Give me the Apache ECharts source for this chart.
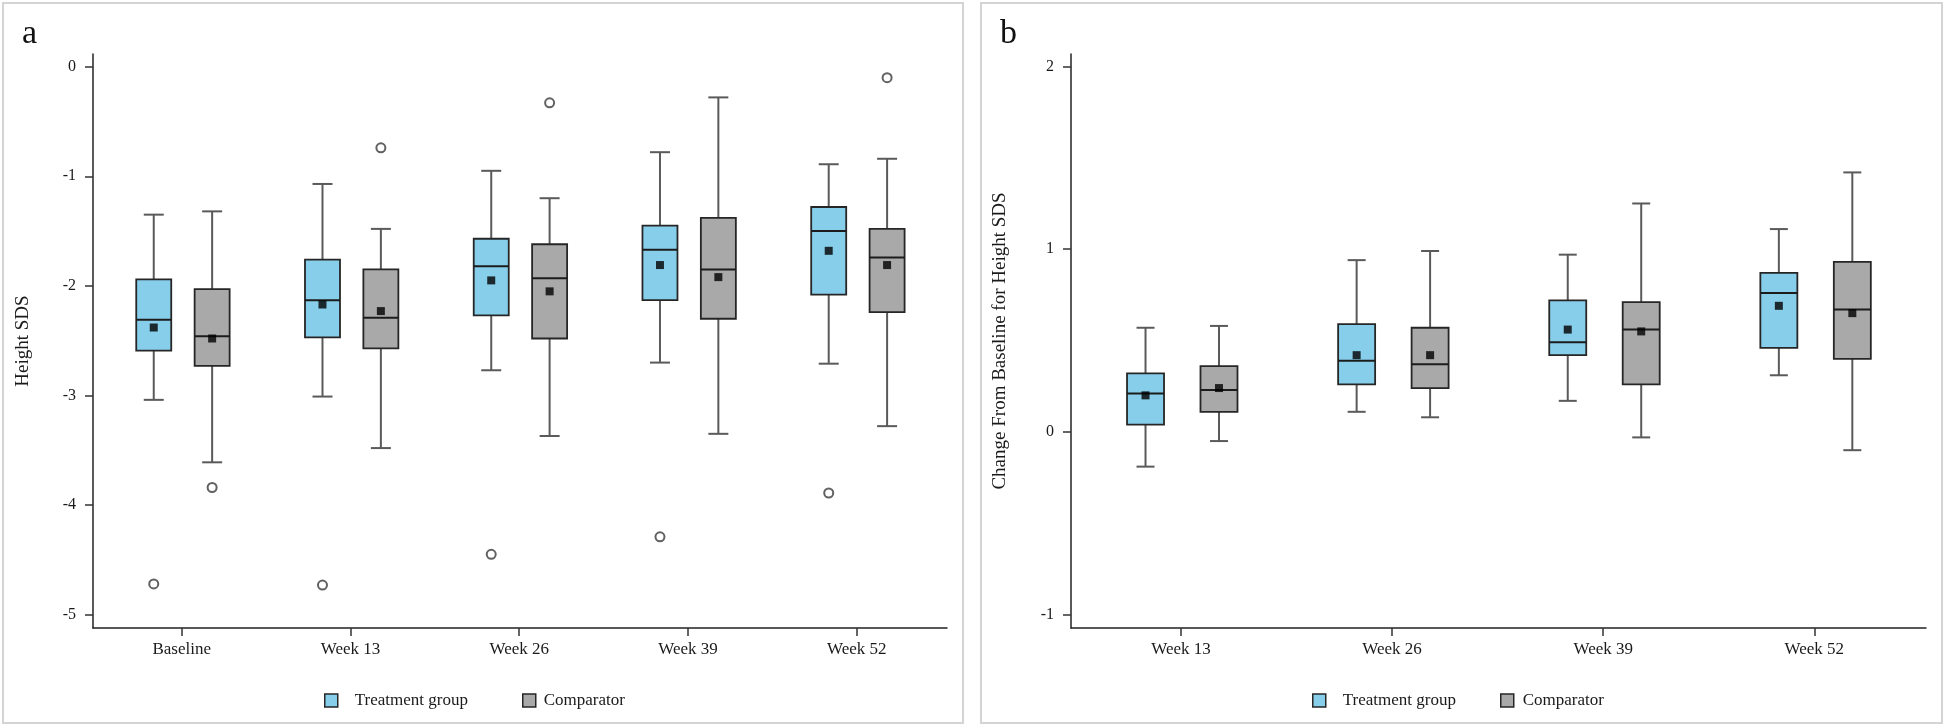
<!DOCTYPE html>
<html>
<head>
<meta charset="utf-8">
<script src="https://cdn.jsdelivr.net/npm/echarts@6/dist/echarts.min.js"></script>
<style>html,body{margin:0;padding:0;background:#fff;}#c{width:1946px;height:727px;}</style>
</head>
<body>
<div id="c"></div>
<script>
// ---------- DATA ----------
const catsA = ['Baseline', 'Week 13', 'Week 26', 'Week 39', 'Week 52'];
const catsB = ['Week 13', 'Week 26', 'Week 39', 'Week 52'];
const yTicksA = [-5, -4, -3, -2, -1, 0];
const yTicksB = [-1, 0, 1, 2];
const seriesNames = ['Treatment group', 'Comparator'];

// box rows: [lower whisker, Q1, median, Q3, upper whisker]
const aTreatBox = [
  [-3.04, -2.59, -2.31, -1.94, -1.35],
  [-3.01, -2.47, -2.13, -1.76, -1.07],
  [-2.77, -2.27, -1.82, -1.57, -0.95],
  [-2.70, -2.13, -1.67, -1.45, -0.78],
  [-2.71, -2.08, -1.50, -1.28, -0.89]
];
const aCompBox = [
  [-3.61, -2.73, -2.46, -2.03, -1.32],
  [-3.48, -2.57, -2.29, -1.85, -1.48],
  [-3.37, -2.48, -1.93, -1.62, -1.20],
  [-3.35, -2.30, -1.85, -1.38, -0.28],
  [-3.28, -2.24, -1.74, -1.48, -0.84]
];
const aTreatMean = [-2.38, -2.17, -1.95, -1.81, -1.68];
const aCompMean = [-2.48, -2.23, -2.05, -1.92, -1.81];
// outliers: [category index, value]
const aTreatOutliers = [[0, -4.72], [1, -4.73], [2, -4.45], [3, -4.29], [4, -3.89]];
const aCompOutliers = [[0, -3.84], [1, -0.74], [2, -0.33], [4, -0.10]];

const bTreatBox = [
  [-0.19, 0.04, 0.21, 0.32, 0.57],
  [0.11, 0.26, 0.39, 0.59, 0.94],
  [0.17, 0.42, 0.49, 0.72, 0.97],
  [0.31, 0.46, 0.76, 0.87, 1.11]
];
const bCompBox = [
  [-0.05, 0.11, 0.23, 0.36, 0.58],
  [0.08, 0.24, 0.37, 0.57, 0.99],
  [-0.03, 0.26, 0.56, 0.71, 1.25],
  [-0.10, 0.40, 0.67, 0.93, 1.42]
];
const bTreatMean = [0.20, 0.42, 0.56, 0.69];
const bCompMean = [0.24, 0.42, 0.55, 0.65];

// ---------- STYLE ----------
const FONT = "'Liberation Serif', 'Times New Roman', serif";
const BLUE = '#87CEEB';
const GREY = '#A9A9A9';
const SHIFT = [-0.167, 0.181]; // group offsets within a category
const OFF_A = [-0.166, 0.18];
const OFF_B = [-0.168, 0.18];

function makeRender(boxW, capW) {
  return function (params, api) {
    const x = api.value(0);
    const lo = api.coord([x, api.value(1)]);
    const q1 = api.coord([x, api.value(2)]);
    const md = api.coord([x, api.value(3)]);
    const q3 = api.coord([x, api.value(4)]);
    const hi = api.coord([x, api.value(5)]);
    const cx = lo[0];
    const h = boxW / 2, c = capW / 2;
    const wStyle = { stroke: '#5a5a5a', lineWidth: 2 };
    const fill = api.visual('color');
    return {
      type: 'group',
      children: [
        { type: 'line', shape: { x1: cx, y1: hi[1], x2: cx, y2: q3[1] }, style: wStyle },
        { type: 'line', shape: { x1: cx, y1: q1[1], x2: cx, y2: lo[1] }, style: wStyle },
        { type: 'line', shape: { x1: cx - c, y1: hi[1], x2: cx + c, y2: hi[1] }, style: wStyle },
        { type: 'line', shape: { x1: cx - c, y1: lo[1], x2: cx + c, y2: lo[1] }, style: wStyle },
        { type: 'rect', shape: { x: cx - h, y: q3[1], width: boxW, height: q1[1] - q3[1] },
          style: { fill: fill, stroke: '#262626', lineWidth: 1.8 } },
        { type: 'line', shape: { x1: cx - h, y1: md[1], x2: cx + h, y2: md[1] },
          style: { stroke: '#1c1c1c', lineWidth: 2 } }
      ]
    };
  };
}

function boxData(rows, off) {
  return rows.map((r, i) => [i + off].concat(r));
}
function meanData(vals, off) {
  return vals.map((v, i) => [i + off, v]);
}
function outData(pairs, off) {
  return pairs.map(p => [p[0] + off, p[1]]);
}

function boxSeries(name, color, xi, rows, off, boxW, capW) {
  return {
    type: 'custom', name: name, xAxisIndex: xi, yAxisIndex: xi,
    itemStyle: { color: color, borderColor: '#262626', borderWidth: 1.5 },
    renderItem: makeRender(boxW, capW),
    encode: { x: 0, y: [1, 2, 3, 4, 5] },
    data: boxData(rows, off),
    z: 2
  };
}
function meanSeries(xi, vals, off) {
  return {
    type: 'scatter', name: 'mean', xAxisIndex: xi, yAxisIndex: xi,
    symbol: 'rect', symbolSize: 8, itemStyle: { color: '#000' },
    data: meanData(vals, off), z: 5, silent: true
  };
}
function outSeries(xi, pairs, off) {
  return {
    type: 'scatter', name: 'outlier', xAxisIndex: xi, yAxisIndex: xi,
    symbol: 'circle', symbolSize: 9,
    itemStyle: { color: '#fff', borderColor: '#3a3a3a', borderWidth: 2 },
    data: outData(pairs, off), z: 5, silent: true
  };
}

function xAxisCfg(gi, cats, min, max) {
  const idx = cats.map((_, i) => i);
  return {
    gridIndex: gi, type: 'value', min: min, max: max,
    splitLine: { show: false },
    axisLine: { show: true, onZero: false, lineStyle: { color: '#222', width: 1.5 } },
    axisTick: { show: true, customValues: idx, length: 8, lineStyle: { color: '#333', width: 1.5 } },
    axisLabel: { customValues: idx, formatter: v => cats[Math.round(v)], margin: 13,
      fontFamily: FONT, fontSize: 17, color: '#1a1a1a' }
  };
}
function yAxisCfg(gi, ticks, min, max, name, gap) {
  return {
    gridIndex: gi, type: 'value', min: min, max: max,
    name: name, nameLocation: 'middle', nameGap: gap, nameRotate: 90,
    nameTextStyle: { fontFamily: FONT, fontSize: 19, color: '#1a1a1a' },
    splitLine: { show: false },
    axisLine: { show: true, onZero: false, lineStyle: { color: '#222', width: 1.5 } },
    axisTick: { show: true, customValues: ticks, length: 8, lineStyle: { color: '#333', width: 1.5 } },
    axisLabel: { customValues: ticks, margin: 17, fontFamily: FONT, fontSize: 16, color: '#1a1a1a' }
  };
}

function legendCfg(name, color, left, padLeft) {
  return {
    left: left, top: 687, itemWidth: 13, itemHeight: 13, icon: 'rect',
    selectedMode: false,
    data: [{ name: name, itemStyle: { color: color, borderColor: '#262626', borderWidth: 1.5 } }],
    textStyle: { fontFamily: FONT, fontSize: 17, color: '#1a1a1a', padding: [0, 0, 0, padLeft] }
  };
}

const chart = echarts.init(document.getElementById('c'), null, { renderer: 'canvas' });
chart.setOption({
  backgroundColor: '#fff',
  animation: false,
  title: [
    { text: 'a', left: 17, top: 12, textStyle: { fontFamily: FONT, fontSize: 34, fontWeight: 'normal', color: '#111' } },
    { text: 'b', left: 995, top: 12, textStyle: { fontFamily: FONT, fontSize: 34, fontWeight: 'normal', color: '#111' } }
  ],
  graphic: [
    { type: 'rect', shape: { x: 3, y: 3, width: 960, height: 720 }, style: { fill: 'none', stroke: '#d4d4d4', lineWidth: 2 }, silent: true, z: -1 },
    { type: 'rect', shape: { x: 981, y: 3, width: 961, height: 720 }, style: { fill: 'none', stroke: '#d4d4d4', lineWidth: 2 }, silent: true, z: -1 }
  ],
  legend: [
    legendCfg(seriesNames[0], BLUE, 319, 12),
    legendCfg(seriesNames[1], GREY, 517, 3),
    legendCfg(seriesNames[0], BLUE, 1307, 12),
    legendCfg(seriesNames[1], GREY, 1495, 4)
  ],
  grid: [
    { left: 93, right: 999, top: 54, bottom: 99 },
    { left: 1071, right: 20, top: 54, bottom: 99 }
  ],
  xAxis: [
    xAxisCfg(0, catsA, -0.526, 4.535),
    xAxisCfg(1, catsB, -0.521, 3.529)
  ],
  yAxis: [
    yAxisCfg(0, yTicksA, -5.122, 0.116, 'Height SDS', 60),
    yAxisCfg(1, yTicksB, -1.073, 2.068, 'Change From Baseline for Height SDS', 61)
  ],
  series: [
    boxSeries(seriesNames[0], BLUE, 0, aTreatBox, OFF_A[0], 35, 20),
    boxSeries(seriesNames[1], GREY, 0, aCompBox, OFF_A[1], 35, 20),
    meanSeries(0, aTreatMean, OFF_A[0]),
    meanSeries(0, aCompMean, OFF_A[1]),
    outSeries(0, aTreatOutliers, OFF_A[0]),
    outSeries(0, aCompOutliers, OFF_A[1]),
    boxSeries(seriesNames[0], BLUE, 1, bTreatBox, OFF_B[0], 37, 18),
    boxSeries(seriesNames[1], GREY, 1, bCompBox, OFF_B[1], 37, 18),
    meanSeries(1, bTreatMean, OFF_B[0]),
    meanSeries(1, bCompMean, OFF_B[1])
  ]
});
</script>
</body>
</html>
